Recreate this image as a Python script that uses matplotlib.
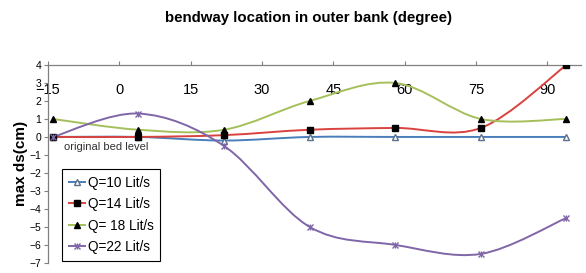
import numpy as np
import matplotlib
matplotlib.use("Agg")
import matplotlib.pyplot as plt
from matplotlib.path import Path
from matplotlib.patches import PathPatch
from matplotlib.lines import Line2D
from matplotlib.legend_handler import HandlerTuple

plt.rcParams['font.family'] = ['Liberation Sans', 'DejaVu Sans']

# --- data ---
angles = [-14, 4, 22, 40, 58, 76, 94]
q10 = [0, 0, -0.2, 0, 0, 0, 0]
q14 = [0, 0, 0.1, 0.4, 0.5, 0.5, 4]
q18 = [1, 0.4, 0.4, 2, 3, 1, 1]
q22 = [0, 1.3, -0.5, -5, -6, -6.5, -4.5]
labels = ["Q=10 Lit/s", "Q=14 Lit/s", "Q= 18 Lit/s", "Q=22 Lit/s"]
xticks = [-15, 0, 15, 30, 45, 60, 75, 90]
yticks = list(range(-7, 5))


def smooth_path(xs, ys):
    # excel style smoothed line: bezier through the points
    pts = np.column_stack([xs, ys]).astype(float)
    n = len(pts)
    verts = [pts[0]]
    codes = [Path.MOVETO]
    for i in range(n - 1):
        p0 = pts[i - 1] if i > 0 else pts[i]
        p1, p2 = pts[i], pts[i + 1]
        p3 = pts[i + 2] if i + 2 < n else pts[i + 1]
        verts += [p1 + (p2 - p0) / 6, p2 - (p3 - p1) / 6, p2]
        codes += [Path.CURVE4] * 3
    return Path(verts, codes)


fig = plt.figure(figsize=(5.86, 2.73), dpi=100)
ax = fig.add_axes([0.082, 0.037, 0.909, 0.725])

series = [
    (q10, '#4a7ebb', dict(marker='^', mfc='white', mec='#5a6f8a', ms=5)),
    (q14, '#d9423f', dict(marker='s', mfc='black', mec='black', ms=4.5)),
    (q18, '#a5c05a', dict(marker='^', mfc='black', mec='black', ms=5)),
    (q22, '#8066a8', dict(marker='x', mfc='none', mec='#8066a8', ms=5, mew=1)),
]

handles = []
for ys, col, mk in series:
    ax.add_patch(PathPatch(smooth_path(angles, ys), fill=False,
                           edgecolor=col, lw=1.4, zorder=2))
    ax.plot(angles, ys, linestyle='none', zorder=3, **mk)
    if mk['marker'] == 'x':
        ax.plot(angles, ys, linestyle='none', marker='|', mec=col, ms=5, mew=1, zorder=3)
        h = (Line2D([], [], color=col, lw=1.4, marker='x', mec=col, ms=5, mew=1),
             Line2D([], [], color=col, lw=0, marker='|', mec=col, ms=5, mew=1))
    else:
        h = Line2D([], [], color=col, lw=1.4, **mk)
    handles.append(h)

ax.set_xlim(-15, 97)
ax.set_ylim(-7, 4)
ax.set_yticks(yticks)
ax.set_xticks(xticks)

for s in ['right', 'bottom']:
    ax.spines[s].set_visible(False)
for s in ['left', 'top']:
    ax.spines[s].set_color('#808080')
    ax.spines[s].set_linewidth(0.9)

ax.tick_params(axis='y', direction='out', length=3, color='#808080',
               labelsize=7.5, pad=2)
ax.tick_params(axis='x', top=True, labeltop=True, bottom=False, labelbottom=False,
               direction='out', length=3, color='#808080', labelsize=10.5, pad=-26)

ax.set_ylabel("max ds(cm)", fontsize=11, fontweight='bold', labelpad=1)
fig.text(0.526, 0.935, "bendway location in outer bank (degree)",
         ha='center', va='center', fontsize=10.8, fontweight='bold')

ax.text(-11.6, -0.55, "original bed level", fontsize=8, color='#333333',
        va='center', ha='left')

leg = ax.legend(handles, labels, loc='upper left', bbox_to_anchor=(0.026, 0.475),
                borderaxespad=0, fontsize=9.8, fancybox=False, edgecolor='black',
                framealpha=1, handlelength=1.2, handletextpad=0.2,
                labelspacing=0.55, borderpad=0.5,
                handler_map={tuple: HandlerTuple(ndivide=1)})
leg.get_frame().set_linewidth(0.8)

fig.savefig("out.png", dpi=100)
